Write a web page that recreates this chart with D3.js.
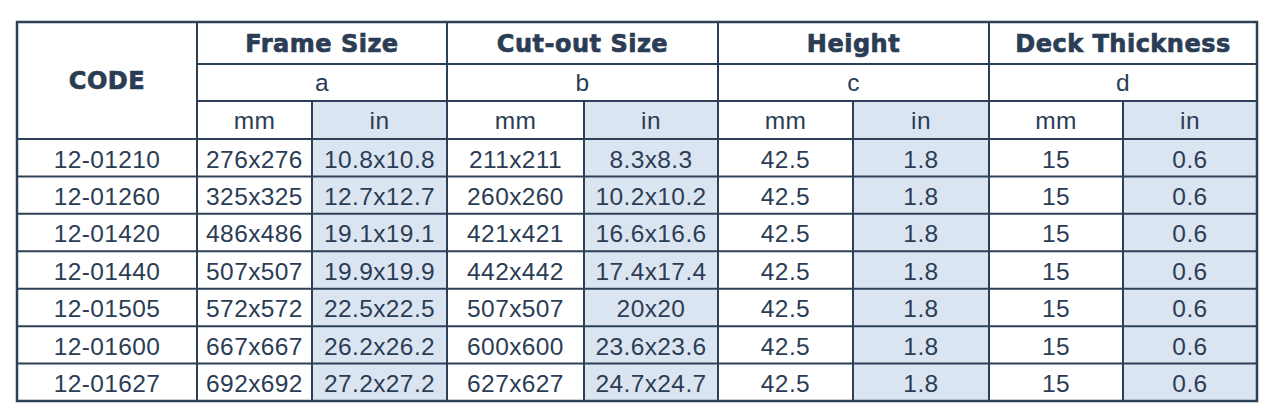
<!DOCTYPE html>
<html>
<head>
<meta charset="utf-8">
<script src="https://cdn.jsdelivr.net/npm/d3@7"></script>
<style>
  body { margin: 0; background: #fff; }
  .cell { font-family: 'Liberation Sans', Arial, sans-serif; font-size: 24.5px; letter-spacing: 0.4px; }
  .head { font-family: 'DejaVu Sans', sans-serif; font-weight: bold; font-size: 24px; letter-spacing: 0.5px;
          stroke: #2b3d55; stroke-width: 0.7px; }
</style>
</head>
<body>
<div id="chart"></div>
<script>
'use strict';
// table data
var groups = ["Frame Size", "Cut-out Size", "Height", "Deck Thickness"];
var letters = ["a", "b", "c", "d"];
var units = ["mm", "in"];
var codes = ["12-01210", "12-01260", "12-01420", "12-01440", "12-01505", "12-01600", "12-01627"];
var frameMm = ["276x276", "325x325", "486x486", "507x507", "572x572", "667x667", "692x692"];
var frameIn = ["10.8x10.8", "12.7x12.7", "19.1x19.1", "19.9x19.9", "22.5x22.5", "26.2x26.2", "27.2x27.2"];
var cutMm = ["211x211", "260x260", "421x421", "442x442", "507x507", "600x600", "627x627"];
var cutIn = ["8.3x8.3", "10.2x10.2", "16.6x16.6", "17.4x17.4", "20x20", "23.6x23.6", "24.7x24.7"];
var heightMm = ["42.5", "42.5", "42.5", "42.5", "42.5", "42.5", "42.5"];
var heightIn = ["1.8", "1.8", "1.8", "1.8", "1.8", "1.8", "1.8"];
var deckMm = ["15", "15", "15", "15", "15", "15", "15"];
var deckIn = ["0.6", "0.6", "0.6", "0.6", "0.6", "0.6", "0.6"];

var columns = [codes, frameMm, frameIn, cutMm, cutIn, heightMm, heightIn, deckMm, deckIn];

// layout
var W = 1268, H = 420;
var edges = [17, 197, 312, 447, 584, 718, 853, 989, 1123, 1257];
var headY = [22, 64, 101, 139];
var bottom = 401;
var ink = "#2b3d55", shade = "#dbe5f1", line = "#2e4057";

var svg = d3.select("#chart").append("svg")
    .attr("width", W).attr("height", H);

var y = d3.scaleBand()
    .domain(d3.range(codes.length))
    .range([headY[3], bottom]);

// shading of "in" columns (header unit row + data)
for (var g = 0; g < 4; g++) {
    var c = 2 + g * 2;
    svg.append("rect")
        .attr("x", edges[c]).attr("y", headY[2])
        .attr("width", edges[c + 1] - edges[c])
        .attr("height", bottom - headY[2])
        .attr("fill", shade);
}

// data cells
columns.forEach(function(col, ci) {
    var cx = (edges[ci] + edges[ci + 1]) / 2;
    svg.selectAll(null).data(col).enter().append("text")
        .attr("class", "cell")
        .attr("x", cx)
        .attr("y", function(d, i) { return y(i) + y.bandwidth() / 2; })
        .attr("dy", "0.4em")
        .attr("text-anchor", "middle")
        .attr("fill", ink)
        .text(function(d) { return d; });
});

// header
svg.append("text")
    .attr("class", "head")
    .attr("x", (edges[0] + edges[1]) / 2)
    .attr("y", (headY[0] + headY[3]) / 2)
    .attr("dy", "0.36em")
    .attr("text-anchor", "middle")
    .attr("fill", ink)
    .text("CODE");

groups.forEach(function(name, g) {
    var x0 = edges[1 + g * 2], x1 = edges[3 + g * 2];
    svg.append("text")
        .attr("class", "head")
        .attr("x", (x0 + x1) / 2)
        .attr("y", (headY[0] + headY[1]) / 2)
        .attr("dy", "0.36em")
        .attr("text-anchor", "middle")
        .attr("fill", ink)
        .text(name);
    svg.append("text")
        .attr("class", "cell")
        .attr("x", (x0 + x1) / 2)
        .attr("y", (headY[1] + headY[2]) / 2)
        .attr("dy", "0.36em")
        .attr("text-anchor", "middle")
        .attr("fill", ink)
        .text(letters[g]);
    units.forEach(function(u, k) {
        var a = edges[1 + g * 2 + k], b = edges[2 + g * 2 + k];
        svg.append("text")
            .attr("class", "cell")
            .attr("x", (a + b) / 2)
            .attr("y", (headY[2] + headY[3]) / 2)
            .attr("dy", "0.36em")
            .attr("text-anchor", "middle")
            .attr("fill", ink)
            .text(u);
    });
});

// grid lines
var grid = svg.append("g")
    .attr("stroke", line).attr("stroke-width", 2).attr("fill", "none");

// horizontal: header rows
grid.append("line").attr("x1", edges[1]).attr("x2", edges[9])
    .attr("y1", headY[1]).attr("y2", headY[1]);
grid.append("line").attr("x1", edges[1]).attr("x2", edges[9])
    .attr("y1", headY[2]).attr("y2", headY[2]);
grid.append("line").attr("x1", edges[0]).attr("x2", edges[9])
    .attr("y1", headY[3]).attr("y2", headY[3]);
// horizontal: data rows
grid.selectAll(null).data(d3.range(1, codes.length)).enter().append("line")
    .attr("x1", edges[0]).attr("x2", edges[9])
    .attr("y1", function(i) { return y(i); })
    .attr("y2", function(i) { return y(i); });

// vertical lines
edges.slice(1, 9).forEach(function(x, i) {
    var groupEdge = (i % 2 === 0);
    grid.append("line")
        .attr("x1", x).attr("x2", x)
        .attr("y1", groupEdge ? headY[0] : headY[2])
        .attr("y2", bottom);
});

// outer border
grid.append("rect")
    .attr("x", edges[0]).attr("y", headY[0])
    .attr("width", edges[9] - edges[0])
    .attr("height", bottom - headY[0])
    .attr("stroke-width", 2.5);
</script>
</body>
</html>
